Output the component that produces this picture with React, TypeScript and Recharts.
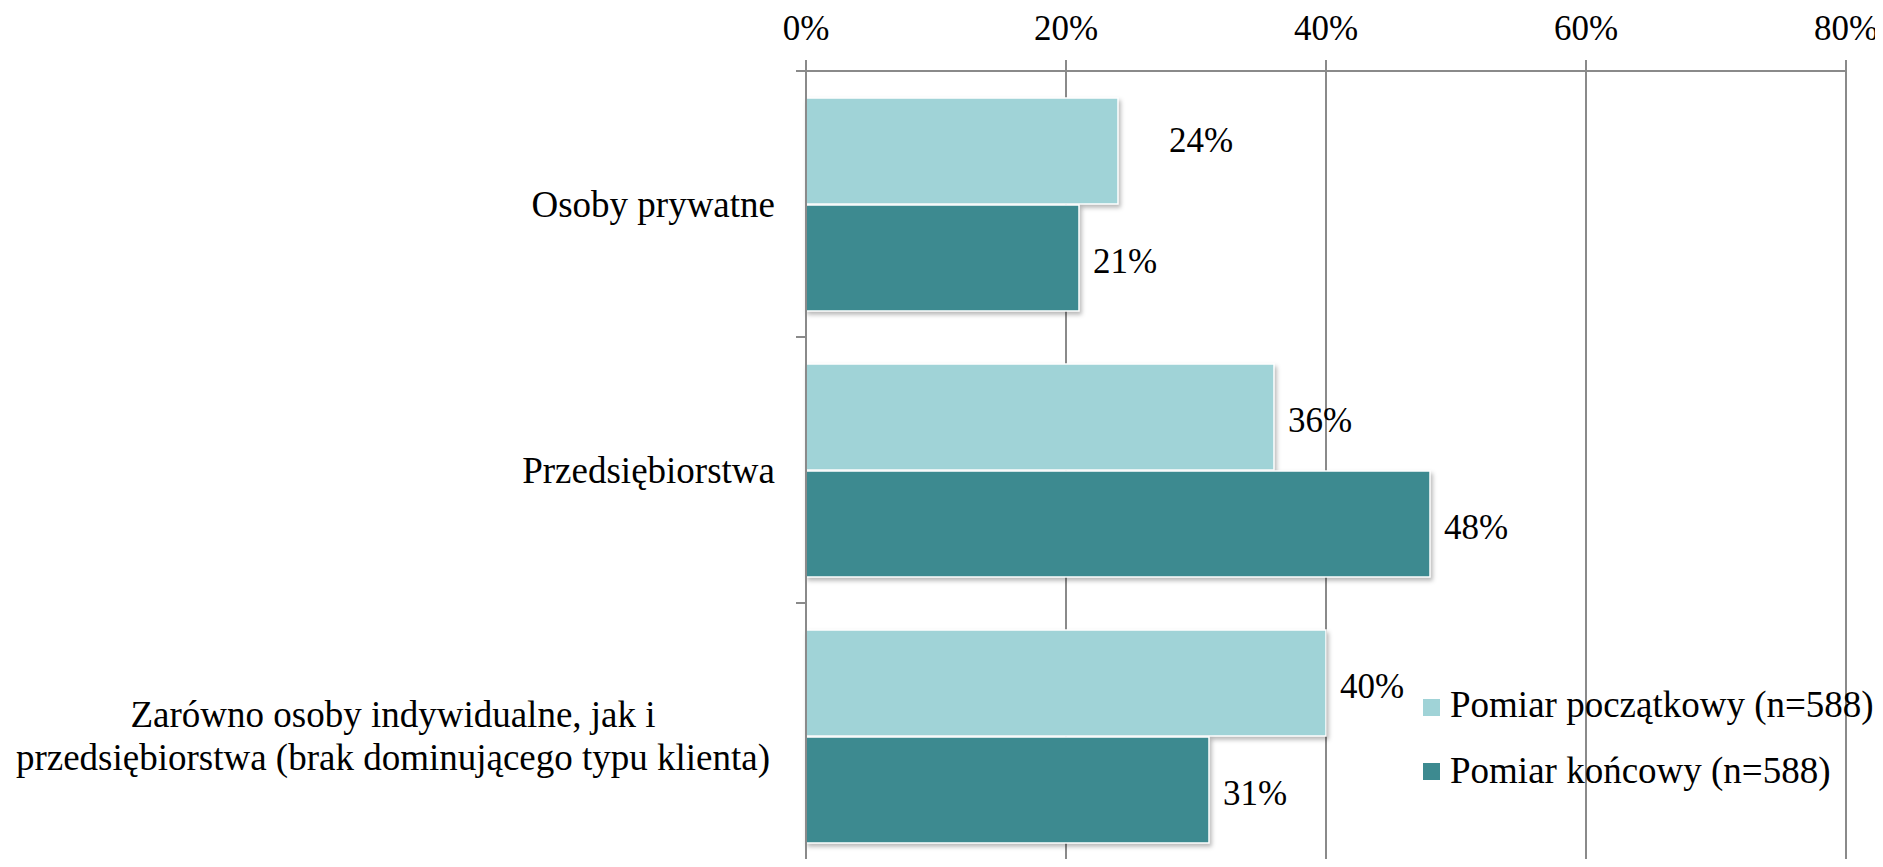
import React from 'react';
import { BarChart, Bar, XAxis, YAxis, CartesianGrid, Legend, LabelList } from 'recharts';

const categories = [
  'Osoby prywatne',
  'Przedsiębiorstwa',
  'Zarówno osoby indywidualne, jak i\nprzedsiębiorstwa (brak dominującego typu klienta)',
];
const initialValues = [0.24, 0.36, 0.4];
const finalValues = [0.21, 0.48, 0.31];
const seriesNames = ['Pomiar początkowy (n=588)', 'Pomiar końcowy (n=588)'];
const xTicks = [0, 0.2, 0.4, 0.6, 0.8];

const data = categories.map((c, i) => ({ name: c, a: initialValues[i], b: finalValues[i] }));

const W = 1883;
const H = 880;
const TOP = 71;
const BOTTOM = 11;
const RIGHT = 37;
const YW = 806;
const BAND = (H - TOP - BOTTOM) / categories.length;
const FONT = 'Liberation Serif, Times New Roman, serif';
const GRID = '#8a8a8a';
const LIGHT = '#A0D3D7';
const DARK = '#3D8A90';

const pct = (v: number) => `${Math.round(v * 100)}%`;

const XTick = (props: any) => {
  const { x, y, payload } = props;
  return (
    <text x={x} y={y - 20} textAnchor="middle" style={{ fontFamily: FONT }} fontSize={35} fill="#000">
      {pct(payload.value)}
    </text>
  );
};

const YTick = (props: any) => {
  const { x, y, payload, index } = props;
  const lines = String(payload.value).split('\n');
  const lineH = 43.5;
  return (
    <g>
      <line x1={x - 10} x2={x} y1={y - BAND / 2} y2={y - BAND / 2} stroke={GRID} strokeWidth={2} />
      {index === categories.length - 1 && (
        <line x1={x - 10} x2={x} y1={y + BAND / 2} y2={y + BAND / 2} stroke={GRID} strokeWidth={2} />
      )}
      {lines.length === 1 ? (
        <text x={x - 31} y={y + 12.7} textAnchor="end" style={{ fontFamily: FONT }} fontSize={37} fill="#000">
          {lines[0]}
        </text>
      ) : (
        lines.map((l, i) => (
          <text
            key={i}
            x={393}
            y={y + 12.7 + (i - (lines.length - 1) / 2) * lineH}
            textAnchor="middle"
            style={{ fontFamily: FONT }}
            fontSize={37}
            fill="#000"
          >
            {l}
          </text>
        ))
      )}
    </g>
  );
};

const BarShape = (props: any) => {
  const { x, y, width, height, fill } = props;
  if (!width || width <= 0) return null;
  return (
    <rect
      x={x}
      y={y}
      width={width}
      height={height}
      fill={fill}
      stroke="#ffffff"
      strokeWidth={1.5}
      style={{ filter: 'drop-shadow(2px 3px 2px rgba(0,0,0,0.28))' }}
    />
  );
};

const makeLabel = (series: number) => (props: any) => {
  const { x, y, width, height, value, index } = props;
  let dx = 14;
  let dy = 14.5;
  if (series === 0 && index === 0) {
    dx = 51;
    dy = 0.5;
  }
  return (
    <text
      x={x + width + dx}
      y={y + height / 2 + dy}
      textAnchor="start"
      style={{ fontFamily: FONT }}
      fontSize={35}
      fill="#000"
    >
      {pct(value)}
    </text>
  );
};

const LegendContent = (props: any) => {
  const payload = [...(props.payload || [])].sort(
    (p: any, q: any) => seriesNames.indexOf(p.value) - seriesNames.indexOf(q.value)
  );
  return (
    <svg width={470} height={130} style={{ display: 'block', overflow: 'visible' }}>
      {payload.map((p: any, i: number) => (
        <g key={i}>
          <rect x={8} y={19 + i * 64} width={17} height={17} fill={p.color} />
          <text x={35} y={37 + i * 66} style={{ fontFamily: FONT }} fontSize={37} fill="#000">
            {p.value}
          </text>
        </g>
      ))}
    </svg>
  );
};

export default function App() {
  return (
    <div style={{ margin: -8, width: W, height: 867, overflow: 'hidden', background: '#fff' }}>
      <BarChart
        width={W}
        height={H}
        data={data}
        layout="vertical"
        margin={{ top: 0, right: RIGHT, bottom: BOTTOM, left: 0 }}
        barCategoryGap={27}
        barGap={1}
      >
        <CartesianGrid vertical horizontal={false} stroke={GRID} strokeWidth={2} />
        <XAxis
          type="number"
          orientation="top"
          domain={[0, 0.8]}
          ticks={xTicks}
          height={TOP}
          axisLine={{ stroke: GRID, strokeWidth: 2 }}
          tickLine={{ stroke: GRID, strokeWidth: 2 }}
          tickSize={11}
          tickMargin={0}
          tick={<XTick />}
          interval={0}
        />
        <YAxis
          type="category"
          dataKey="name"
          width={YW}
          axisLine={{ stroke: GRID, strokeWidth: 2 }}
          tickLine={false}
          tickSize={0}
          tickMargin={0}
          tick={<YTick />}
          interval={0}
        />
        <Legend
          layout="vertical"
          align="center"
          verticalAlign="middle"
          content={<LegendContent />}
          wrapperStyle={{ top: 680, left: 1415, width: 470, height: 130 }}
        />
        <Bar dataKey="a" name={seriesNames[0]} fill={LIGHT} shape={<BarShape />} isAnimationActive={false}>
          <LabelList dataKey="a" content={makeLabel(0)} />
        </Bar>
        <Bar dataKey="b" name={seriesNames[1]} fill={DARK} shape={<BarShape />} isAnimationActive={false}>
          <LabelList dataKey="b" content={makeLabel(1)} />
        </Bar>
      </BarChart>
    </div>
  );
}
